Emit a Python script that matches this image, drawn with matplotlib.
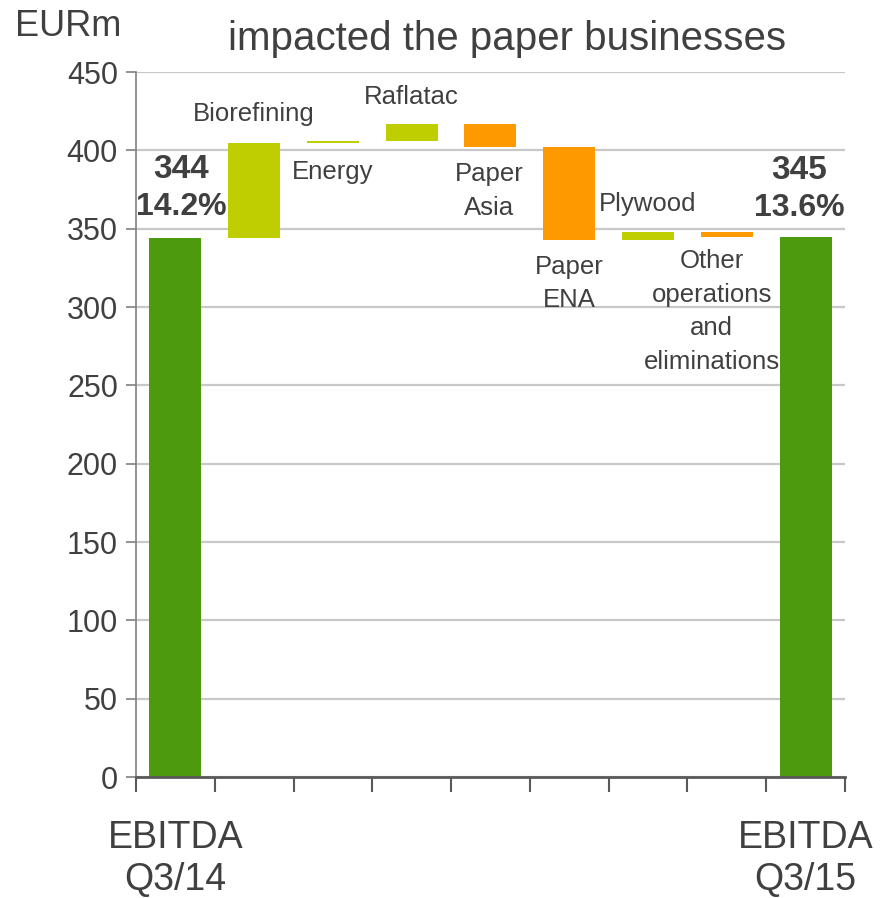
import matplotlib
matplotlib.use("Agg")
import matplotlib.pyplot as plt
import matplotlib.transforms as mtransforms
import numpy as np

plt.rcParams['font.family'] = ['Liberation Sans', 'DejaVu Sans']

# EBITDA bridge, EUR million
start_value = 344
end_value = 345
start_margin = "14.2%"
end_margin = "13.6%"
steps = ["Biorefining", "Energy", "Raflatac", "Paper\nAsia", "Paper\nENA",
         "Plywood", "Other\noperations\nand\neliminations"]
changes = [61, 1, 11, -15, -59, 5, -3]
# where each step label sits (y value in EURm, x shift in categories)
label_y = [423, 386, 434, 374, 315, 366, 297]
label_dx = [0, 0, 0, -0.02, 0, 0, -0.19]

dark_green = "#4E9A0E"
lime = "#BFCE00"
orange = "#FF9900"
txt = "#404040"

fig = plt.figure(figsize=(8.91, 8.98), dpi=100)
ax = fig.add_axes([0.1526, 0.1347, 0.7957, 0.7851])

n = len(steps) + 2
width = 0.66

# totals
ax.bar(0, start_value, width, color=dark_green, zorder=3)
ax.bar(n - 1, end_value, width, color=dark_green, zorder=3)

# floating steps
level = start_value
for i, ch in enumerate(changes):
    x = i + 1
    bottom = level if ch >= 0 else level + ch
    ax.bar(x, abs(ch), width, bottom=bottom,
           color=lime if ch >= 0 else orange, zorder=3)
    level += ch
    ax.text(x + label_dx[i], label_y[i], steps[i], ha="center", va="center",
            fontsize=18.5, color=txt, linespacing=1.5, zorder=4)

ax.text(0.07, 388, str(start_value), ha="center", va="center", fontsize=24,
        fontweight="bold", color=txt)
ax.text(0.07, 364, start_margin, ha="center", va="center", fontsize=23,
        fontweight="bold", color=txt)
ax.text(n - 1 - 0.08, 387, str(end_value), ha="center", va="center",
        fontsize=24, fontweight="bold", color=txt)
ax.text(n - 1 - 0.08, 363, end_margin, ha="center", va="center", fontsize=23,
        fontweight="bold", color=txt)

ax.set_xlim(-0.5, n - 0.5)
ax.set_ylim(0, 450)
ax.set_yticks(np.arange(0, 451, 50))
ax.yaxis.grid(True, color="#C8C8C8", linewidth=1.6, zorder=0)
ax.set_axisbelow(True)

ax.set_xticks(np.arange(-0.5, n, 1.0))
ax.set_xticklabels([])
ax.tick_params(axis="x", length=11, width=1.5, color="#595959", direction="out")
ax.tick_params(axis="y", length=7, width=1.2, color="#808080",
               labelsize=22, labelcolor=txt, pad=6)

for s in ["top", "right"]:
    ax.spines[s].set_visible(False)
ax.spines["left"].set_color("#808080")
ax.spines["left"].set_linewidth(1.2)
ax.spines["bottom"].set_color("#595959")
ax.spines["bottom"].set_linewidth(2)
ax.spines["left"].set_zorder(5)
ax.spines["bottom"].set_zorder(5)

trans = mtransforms.blended_transform_factory(ax.transData, ax.transAxes)
for x, q in [(0, "Q3/14"), (n - 1, "Q3/15")]:
    ax.text(x, -0.087, "EBITDA", transform=trans, ha="center", va="center",
            fontsize=27, color=txt)
    ax.text(x, -0.146, q, transform=trans, ha="center", va="center",
            fontsize=27, color=txt)

fig.text(0.076, 0.970, "EURm", ha="center", va="center", fontsize=26,
         color=txt)
fig.text(0.569, 0.957, "impacted the paper businesses", ha="center",
         va="center", fontsize=29, color=txt)

fig.savefig("out.png", dpi=100)
